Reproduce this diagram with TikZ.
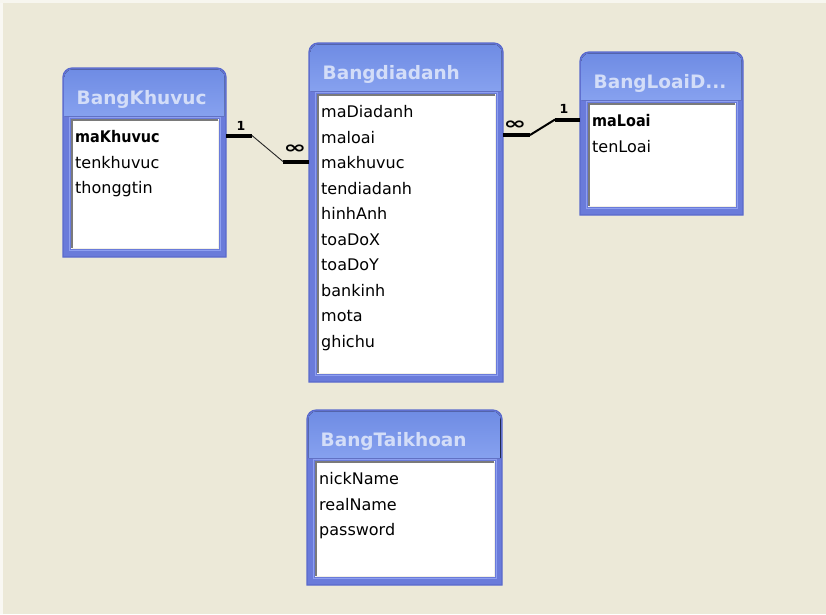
\documentclass[tikz,border=0pt]{standalone}
\usepackage{fontspec}
\setmainfont{DejaVu Sans}
\usetikzlibrary{calc}

\definecolor{canvasbg}{HTML}{ECE9D8}
\definecolor{frameblue}{HTML}{6A7BDA}
\definecolor{frameedge}{HTML}{5A6ACC}
\definecolor{hdrtop}{HTML}{6F8CE4}
\definecolor{hdrbot}{HTML}{86A1EF}
\definecolor{titletext}{HTML}{D3DDF8}
\definecolor{innerrim}{HTML}{8E9FF0}
\definecolor{sunkdark}{HTML}{7A7A7A}
\definecolor{sunklight}{HTML}{F2F0E6}

\tikzset{
  tablebody/.style={draw=none, inner sep=0pt, outer sep=0pt, rectangle},
  tabletitle/.style={inner sep=0pt, anchor=base west, text=titletext,
    font=\fontsize{18.5}{20}\selectfont\bfseries},
  fieldtext/.style={inner sep=0pt, anchor=base west, text=black,
    font=\fontsize{16}{18}\selectfont},
  relthick/.style={line width=4pt, black},
  relthin/.style={line width=0.9pt, black!85},
  reldiag/.style={line width=2pt, black},
  onelabel/.style={inner sep=0pt, font=\fontsize{12.5}{13}\selectfont\bfseries},
  manylabel/.style={inner sep=0pt, font=\fontsize{17}{18}\selectfont\bfseries},
}

% #1 name, #2 x, #3 y, #4 width, #5 height, #6 title, #7 list of fields
\newcommand\ertable[7]{%
  \node[tablebody, minimum width=#4pt, minimum height=#5pt, anchor=north west] (#1) at (#2,#3) {};
  % outer frame with rounded top corners
  \fill[frameblue] (#1.south west) {[rounded corners=9pt] -- (#1.north west) -- (#1.north east)} -- (#1.south east) -- cycle;
  % shaded title bar
  \fill[top color=hdrtop, bottom color=hdrbot]
    ([xshift=1.5pt,yshift=-48pt]#1.north west)
    {[rounded corners=8pt] -- ([xshift=1.5pt,yshift=-1.5pt]#1.north west) -- ([xshift=-1.5pt,yshift=-1.5pt]#1.north east)}
    -- ([xshift=-1.5pt,yshift=-48pt]#1.north east) -- cycle;
  \draw[frameedge, line width=1.2pt] (#1.south west) {[rounded corners=9pt] -- (#1.north west) -- (#1.north east)} -- (#1.south east) -- cycle;
  % light rim and sunken white field list
  \draw[innerrim, line width=1.5pt] ([xshift=6.5pt,yshift=-49.5pt]#1.north west) rectangle ([xshift=-5.5pt,yshift=6.5pt]#1.south east);
  \fill[white] ([xshift=8pt,yshift=-51pt]#1.north west) rectangle ([xshift=-7pt,yshift=8pt]#1.south east);
  \draw[sunklight, line width=1.5pt] ([xshift=8.75pt,yshift=8.75pt]#1.south west) -- ([xshift=-7.75pt,yshift=8.75pt]#1.south east) -- ([xshift=-7.75pt,yshift=-51.75pt]#1.north east);
  \draw[sunkdark, line width=1.5pt] ([xshift=8.75pt,yshift=8.75pt]#1.south west) -- ([xshift=8.75pt,yshift=-51.75pt]#1.north west) -- ([xshift=-7.75pt,yshift=-51.75pt]#1.north east);
  \node[tabletitle] (#1-title) at ([xshift=13.5pt,yshift=-36.5pt]#1.north west) {#6};
  \foreach \f [count=\i] in {#7} {
    \node[fieldtext] (#1-f\i) at ([xshift=12pt,yshift={-(74.5+(\i-1)*25.5)*1pt}]#1.north west) {\f};
  }
}

\begin{document}
\begin{tikzpicture}[x=1pt, y=-1pt]
  % canvas
  \fill[canvasbg] (0,0) rectangle (826,614);
  \fill[white!70!canvasbg] (0,0) rectangle (3,614);
  \fill[white!60!canvasbg] (0,0) rectangle (826,3);
  \useasboundingbox (0,0) rectangle (826,614);

  \ertable{khuvuc}{63}{68}{163}{189}{BangKhuvuc}%
    {{\scalebox{0.9}[1]{\bfseries maKhuvuc}},tenkhuvuc,thonggtin}
  \ertable{diadanh}{309}{43}{194}{339}{Bangdiadanh}%
    {maDiadanh,maloai,makhuvuc,tendiadanh,hinhAnh,toaDoX,toaDoY,bankinh,mota,ghichu}
  \ertable{loai}{580}{52}{163}{163}{BangLoaiD...}%
    {{\scalebox{0.9}[1]{\bfseries maLoai}},tenLoai}
  \ertable{taikhoan}{307}{410}{195}{175}{BangTaikhoan}%
    {nickName,realName,password}

  % relationship BangKhuvuc (1) -- Bangdiadanh (many)
  \coordinate (r1a) at ($(khuvuc.east |- khuvuc-f1.center)+(0,-1)$);
  \coordinate (r1b) at ($(diadanh.west |- diadanh-f3.center)+(0,-1)$);
  \draw[relthick] (r1a) -- ++(26,0) coordinate (r1a2);
  \draw[relthick] (r1b) -- ++(-26,0) coordinate (r1b2);
  \draw[relthin] (r1a2) -- (r1b2);
  \node[onelabel] (r1one) at ($(r1a)+(15,-10)$) {1};
  \node[manylabel] (r1many) at ($(r1b)+(-14,-12)$) {\scalebox{1.6}[1]{∞}};

  % relationship BangLoaiD... (1) -- Bangdiadanh (many)
  \coordinate (r2a) at ($(diadanh.east |- diadanh-f2.center)+(0,-2)$);
  \coordinate (r2b) at ($(loai.west |- loai-f1.center)+(0,-1)$);
  \draw[relthick] (r2a) -- ++(27,0) coordinate (r2a2);
  \draw[relthick] (r2b) -- ++(-25,0) coordinate (r2b2);
  \draw[reldiag] (r2a2) -- (r2b2);
  \node[manylabel] (r2many) at ($(r2a)+(12,-10)$) {\scalebox{1.6}[1]{∞}};
  \node[onelabel] (r2one) at ($(r2b)+(-16,-11)$) {1};
\end{tikzpicture}
\end{document}
